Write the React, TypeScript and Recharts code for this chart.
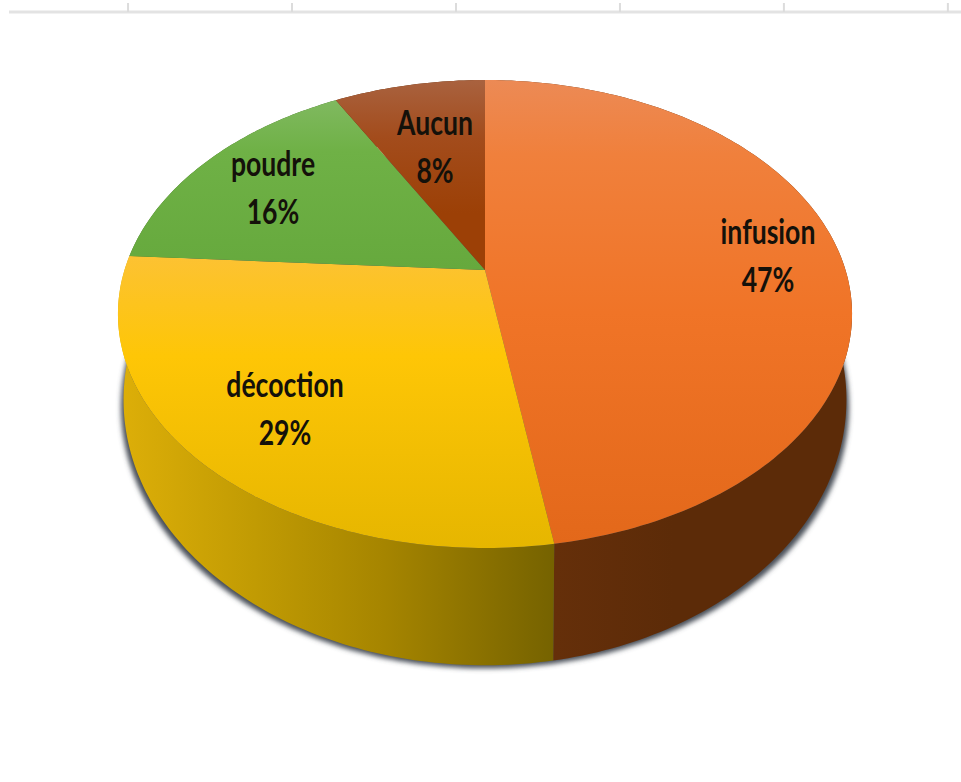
import React from 'react';
import { LineChart, Line, XAxis, YAxis, PieChart, Pie } from 'recharts';

const categories = ['infusion', 'décoction', 'poudre', 'Aucun'];
const shares = [47, 29, 16, 8];
const axisTicks = [0, 1, 2, 3, 4, 5];

const slices = categories.map((name, i) => ({ name, value: shares[i] }));
const wholeDisc = [{ name: 'total', value: 100 }];
const axisRows = axisTicks.map(t => ({ t, y: 0 }));

// label centres for the two text lines, per category
const labelAnchors: Record<string, { x: number; y: number }> = {
  infusion: { x: 768, y: 257 },
  décoction: { x: 285, y: 410 },
  poudre: { x: 273, y: 189 },
  Aucun: { x: 435, y: 148 },
};

const faceFill: Record<string, string> = {
  infusion: 'url(#faceOrange)',
  décoction: 'url(#faceYellow)',
  poudre: 'url(#faceGreen)',
  Aucun: 'url(#faceBrown)',
};
const wallFill: Record<string, string> = {
  infusion: 'url(#wallOrange)',
  décoction: 'url(#wallYellow)',
  poudre: '#3f6b25',
  Aucun: '#5e2a08',
};

// perspective tilt of the disc: the near edge is drawn larger than the far edge
const TILT = 0.188;
const TOP_RIM = { cx: 485, cy: 270, rx: 360.5, ry: 225.7 };
const BASE_RIM = { cx: 485, cy: 350, rx: 355, ry: 256 };
const SHADOW_RIM = { cx: 485, cy: 358, rx: 357.5, ry: 252 };
const RAD = Math.PI / 180;

type Rim = typeof TOP_RIM;

// the front of the rim is foreshortened a little towards the viewer's left
const viewAngle = (angle: number) => {
  const clockwise = ((90 - angle) % 360 + 360) % 360;
  return angle - 1.8 * Math.exp(-(((clockwise - 169) / 40) ** 2));
};

const project = (rim: Rim, angle: number) => {
  const seen = viewAngle(angle);
  const u = Math.cos(seen * RAD);
  const v = -Math.sin(seen * RAD);
  const w = 1 - TILT * v;
  return { x: rim.cx + (rim.rx * u) / w, y: rim.cy + (rim.ry * v) / w };
};

const arcPoints = (rim: Rim, from: number, to: number) => {
  const steps = Math.max(2, Math.ceil(Math.abs(to - from)));
  const pts = [];
  for (let i = 0; i <= steps; i++) pts.push(project(rim, from + ((to - from) * i) / steps));
  return pts;
};

const toPath = (pts: { x: number; y: number }[]) =>
  pts.map((p, i) => `${i ? 'L' : 'M'}${p.x.toFixed(2)},${p.y.toFixed(2)}`).join(' ') + ' Z';

const FaceSlice = (props: any) => {
  const { startAngle, endAngle, name } = props;
  const d = toPath([{ x: TOP_RIM.cx, y: TOP_RIM.cy }, ...arcPoints(TOP_RIM, startAngle, endAngle)]);
  return <path d={d} fill={faceFill[name]} />;
};

const WallSlice = (props: any) => {
  const { startAngle, endAngle, name } = props;
  const d = toPath([...arcPoints(TOP_RIM, startAngle, endAngle), ...arcPoints(BASE_RIM, endAngle, startAngle)]);
  return <path d={d} fill={wallFill[name]} />;
};

const ShadowDisc = (props: any) => {
  const { startAngle, endAngle } = props;
  const d = toPath(arcPoints(SHADOW_RIM, startAngle, endAngle));
  return <path d={d} fill="#4a4f58" filter="url(#softShadow)" />;
};

const renderLabel = (props: any) => {
  const { name, value } = props;
  const a = labelAnchors[name];
  return (
    <text
      transform={`translate(${a.x} ${a.y}) scale(0.76 1)`}
      textAnchor="middle"
      fill="#14110a"
      fontFamily="Lato, sans-serif"
      fontSize={35}
      fontWeight={700}
    >
      <tspan x={0} y={-13}>{name}</tspan>
      <tspan x={0} y={35}>{`${value}%`}</tspan>
    </text>
  );
};

const App = () => (
  <div style={{ position: 'fixed', left: 0, top: 0, width: 961, height: 782, background: '#fff', overflow: 'hidden' }}>
    <div style={{ position: 'absolute', left: 0, top: 0 }}>
      <LineChart width={961} height={30} data={axisRows} margin={{ top: 11, left: 9, right: 0, bottom: 0 }}>
        <XAxis
          dataKey="t"
          type="number"
          orientation="top"
          domain={[-0.726, 5.08]}
          ticks={axisTicks}
          allowDataOverflow
          height={1}
          tick={() => <g />}
          tickSize={9}
          tickLine={{ stroke: '#dcdcdc', strokeWidth: 2 }}
          axisLine={{ stroke: '#e3e3e3', strokeWidth: 3 }}
        />
        <YAxis hide />
        <Line dataKey="y" stroke="none" dot={false} isAnimationActive={false} />
      </LineChart>
    </div>
    <div style={{ position: 'absolute', left: 0, top: 0 }}>
      <PieChart width={961} height={782} margin={{ top: 0, left: 0, right: 0, bottom: 0 }}>
        <defs>
          <filter id="softShadow" x="-5%" y="-5%" width="110%" height="110%">
            <feGaussianBlur stdDeviation="2.5" />
          </filter>
          <linearGradient id="faceOrange" gradientUnits="userSpaceOnUse" x1="0" y1="80" x2="0" y2="545">
            <stop offset="0" stopColor="#ec8a55" />
            <stop offset="0.16" stopColor="#f0803c" />
            <stop offset="0.5" stopColor="#f07427" />
            <stop offset="1" stopColor="#e3681a" />
          </linearGradient>
          <linearGradient id="faceYellow" gradientUnits="userSpaceOnUse" x1="0" y1="253" x2="0" y2="548">
            <stop offset="0" stopColor="#fcc234" />
            <stop offset="0.35" stopColor="#fec606" />
            <stop offset="1" stopColor="#e6b600" />
          </linearGradient>
          <linearGradient id="faceGreen" gradientUnits="userSpaceOnUse" x1="0" y1="100" x2="0" y2="270">
            <stop offset="0" stopColor="#80b960" />
            <stop offset="0.3" stopColor="#6fb146" />
            <stop offset="1" stopColor="#66a93d" />
          </linearGradient>
          <linearGradient id="faceBrown" gradientUnits="userSpaceOnUse" x1="0" y1="80" x2="0" y2="270">
            <stop offset="0" stopColor="#a9623f" />
            <stop offset="0.3" stopColor="#a34c1c" />
            <stop offset="0.7" stopColor="#9c4006" />
            <stop offset="1" stopColor="#9c4006" />
          </linearGradient>
          <linearGradient id="wallYellow" gradientUnits="userSpaceOnUse" x1="125" y1="0" x2="556" y2="0">
            <stop offset="0" stopColor="#dcae08" />
            <stop offset="0.3" stopColor="#c19b03" />
            <stop offset="0.6" stopColor="#a68500" />
            <stop offset="1" stopColor="#756200" />
          </linearGradient>
          <linearGradient id="wallOrange" gradientUnits="userSpaceOnUse" x1="556" y1="0" x2="850" y2="0">
            <stop offset="0" stopColor="#652f0a" />
            <stop offset="0.4" stopColor="#5c2b08" />
            <stop offset="1" stopColor="#5c2b08" />
          </linearGradient>
        </defs>
        <Pie data={wholeDisc} dataKey="value" nameKey="name" cx={485} cy={270} outerRadius={360} startAngle={90} endAngle={-270} stroke="none" shape={ShadowDisc} isAnimationActive={false} />
        <Pie data={slices} dataKey="value" nameKey="name" cx={485} cy={270} outerRadius={360} startAngle={90} endAngle={-270} stroke="none" shape={WallSlice} isAnimationActive={false} />
        <Pie data={slices} dataKey="value" nameKey="name" cx={485} cy={270} outerRadius={360} startAngle={90} endAngle={-270} stroke="none" shape={FaceSlice} label={renderLabel} labelLine={false} isAnimationActive={false} />
      </PieChart>
    </div>
  </div>
);

export default App;
